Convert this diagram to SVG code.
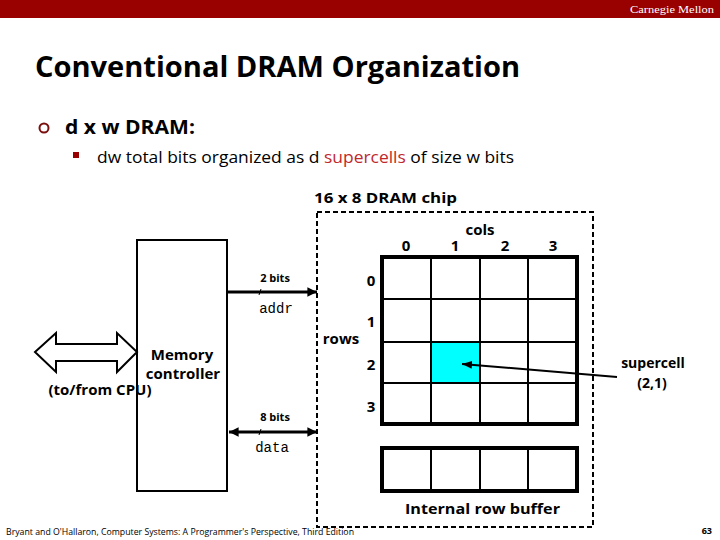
<svg xmlns="http://www.w3.org/2000/svg" width="720" height="540" viewBox="0 0 720 540">
<style>
.s{font-family:"Open Sans","Liberation Sans",sans-serif;fill:#000}
.b{font-weight:bold}
.m{font-family:"Liberation Mono","Courier New",monospace;fill:#000}
.thick{fill:none;stroke:#000;stroke-width:4}
.thin{fill:none;stroke:#000;stroke-width:2}
.dash{fill:none;stroke:#000;stroke-width:2;stroke-dasharray:5,3}
</style>
<defs>
<marker id="ah" viewBox="0 0 10 10" refX="10" refY="5" markerWidth="3.2" markerHeight="3.2" orient="auto-start-reverse">
<path d="M0,0 L10,5 L0,10 z" fill="#000"/>
</marker>
<marker id="ah2" viewBox="0 0 10 10" refX="10" refY="5" markerWidth="5" markerHeight="5" orient="auto">
<path d="M0,1 L10,5 L0,9 z" fill="#000"/>
</marker>
</defs>
<rect width="720" height="540" fill="#fff"/>
<g id="header">
<rect x="0" y="0" width="720" height="18" fill="#990000"/>
<text x="714" y="13" font-family="Liberation Serif,serif" font-size="11" fill="#fff" text-anchor="end" textLength="84" lengthAdjust="spacingAndGlyphs">Carnegie Mellon</text>
</g>
<g id="title">
<text class="s b" x="35" y="77" font-size="29" textLength="485" lengthAdjust="spacingAndGlyphs">Conventional DRAM Organization</text>
</g>
<g id="bullets">
<circle cx="44" cy="128" r="4.5" fill="none" stroke="#7a1010" stroke-width="2"/>
<text class="s b" x="65" y="134" font-size="19" textLength="130" lengthAdjust="spacingAndGlyphs">d x w DRAM:</text>
<rect x="73" y="152" width="6" height="6" fill="#990000"/>
<text class="s" x="97" y="163" font-size="16" textLength="417" lengthAdjust="spacingAndGlyphs">dw total bits organized as d <tspan fill="#c0282d">supercells</tspan> of size w bits</text>
</g>
<g id="chip">
<text class="s b" x="314" y="203" font-size="15" textLength="143" lengthAdjust="spacingAndGlyphs">16 x 8 DRAM chip</text>
<rect class="dash" x="317" y="212" width="276" height="315"/>
</g>
<g id="array">
<rect x="431" y="342" width="49" height="41" fill="#00ffff"/>
<line class="thin" x1="382" y1="299" x2="577" y2="299"/>
<line class="thin" x1="382" y1="342" x2="577" y2="342"/>
<line class="thin" x1="382" y1="383" x2="577" y2="383"/>
<line class="thin" x1="431" y1="257" x2="431" y2="424"/>
<line class="thin" x1="480" y1="257" x2="480" y2="424"/>
<line class="thin" x1="528" y1="257" x2="528" y2="424"/>
<rect class="thick" x="382" y="257" width="195" height="167"/>
<text class="s b" x="480" y="235" font-size="15" text-anchor="middle">cols</text>
<text class="s b" x="406" y="251" font-size="15" text-anchor="middle">0</text>
<text class="s b" x="455" y="251" font-size="15" text-anchor="middle">1</text>
<text class="s b" x="505" y="251" font-size="15" text-anchor="middle">2</text>
<text class="s b" x="553" y="251" font-size="15" text-anchor="middle">3</text>
<text class="s b" x="371" y="286" font-size="15" text-anchor="middle">0</text>
<text class="s b" x="371" y="327" font-size="15" text-anchor="middle">1</text>
<text class="s b" x="341" y="344" font-size="15" text-anchor="middle">rows</text>
<text class="s b" x="371" y="370" font-size="15" text-anchor="middle">2</text>
<text class="s b" x="371" y="412" font-size="15" text-anchor="middle">3</text>
</g>
<g id="rowbuffer">
<line class="thin" x1="431" y1="448" x2="431" y2="491"/>
<line class="thin" x1="480" y1="448" x2="480" y2="491"/>
<line class="thin" x1="528" y1="448" x2="528" y2="491"/>
<rect class="thick" x="382" y="448" width="195" height="43"/>
<text class="s b" x="405" y="514" font-size="15" textLength="155" lengthAdjust="spacingAndGlyphs">Internal row buffer</text>
</g>
<g id="controller">
<rect x="137" y="240" width="90" height="251" fill="#fff" stroke="#000" stroke-width="2"/>
<path d="M35,352 L56,333 L56,344 L117,344 L117,333 L137,352 L117,372 L117,361 L56,361 L56,372 Z" fill="#fff" stroke="#000" stroke-width="2"/>
<text class="s b" x="182" y="360" font-size="15" text-anchor="middle">Memory</text>
<text class="s b" x="183" y="379" font-size="15" text-anchor="middle">controller</text>
<text class="s b" x="100" y="395" font-size="15" text-anchor="middle">(to/from CPU)</text>
</g>
<g id="supercell-label">
<text class="s b" x="653" y="368" font-size="14" text-anchor="middle">supercell</text>
<text class="s b" x="652" y="388" font-size="14" text-anchor="middle">(2,1)</text>
</g>
<g id="connectors">
<line x1="227" y1="292" x2="317" y2="292" stroke="#000" stroke-width="3" marker-end="url(#ah)"/>
<line x1="229" y1="432" x2="317" y2="432" stroke="#000" stroke-width="3" marker-start="url(#ah)" marker-end="url(#ah)"/>
<line x1="617" y1="377" x2="462" y2="364" stroke="#000" stroke-width="2" marker-end="url(#ah2)"/>
<line x1="259" y1="295" x2="261" y2="289" stroke="#000" stroke-width="1"/>
<line x1="259" y1="435" x2="261" y2="429" stroke="#000" stroke-width="1"/>
<text class="s b" x="275" y="282" font-size="11" text-anchor="middle">2 bits</text>
<text class="m" x="276" y="313" font-size="14" text-anchor="middle">addr</text>
<text class="s b" x="275" y="421" font-size="11" text-anchor="middle">8 bits</text>
<text class="m" x="272" y="452" font-size="14" text-anchor="middle">data</text>
</g>
<g id="footer">
<text class="s" x="6" y="535" font-size="8.5" textLength="348" lengthAdjust="spacingAndGlyphs">Bryant and O'Hallaron, Computer Systems: A Programmer's Perspective, Third Edition</text>
<text class="s b" x="712" y="534" font-size="9" text-anchor="end">63</text>
</g>
</svg>
